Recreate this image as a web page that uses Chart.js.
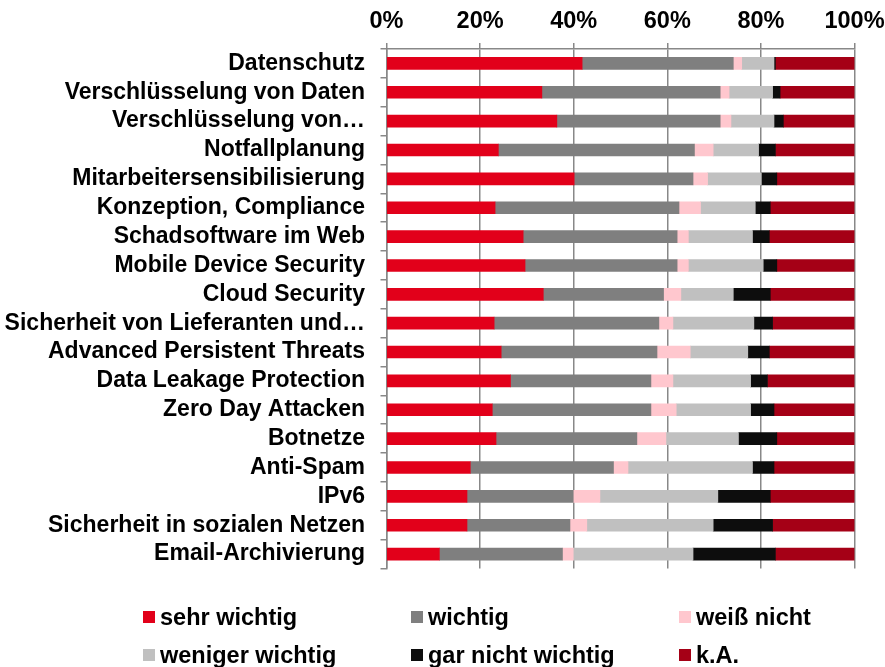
<!DOCTYPE html>
<html>
<head>
<meta charset="utf-8">
<script src="https://cdn.jsdelivr.net/npm/chart.js@4/dist/chart.umd.min.js"></script>
<style>
  html, body { margin: 0; padding: 0; background: #fff; }
  #wrap { position: relative; width: 885px; height: 667px; overflow: hidden; }
  #chart { position: absolute; left: 0; top: 0; }
  .lg { position: absolute; display: flex; align-items: center; height: 24px;
        font-family: "Liberation Sans", Arial, sans-serif; font-weight: bold; font-size: 23.5px; color: #000; white-space: nowrap; }
  .lg .sw { width: 12px; height: 12px; margin-right: 5px; flex: none; }
</style>
</head>
<body>
<div id="wrap">
  <canvas id="chart" width="885" height="667"></canvas>
</div>
<script>
const categories = [
  "Datenschutz",
  "Verschlüsselung von Daten",
  "Verschlüsselung von…",
  "Notfallplanung",
  "Mitarbeitersensibilisierung",
  "Konzeption, Compliance",
  "Schadsoftware im Web",
  "Mobile Device Security",
  "Cloud Security",
  "Sicherheit von Lieferanten und…",
  "Advanced Persistent Threats",
  "Data Leakage Protection",
  "Zero Day Attacken",
  "Botnetze",
  "Anti-Spam",
  "IPv6",
  "Sicherheit in sozialen Netzen",
  "Email-Archivierung"
];
const seriesNames = ["sehr wichtig", "wichtig", "weiß nicht", "weniger wichtig", "gar nicht wichtig", "k.A."];
const seriesColors = ["#E2001A", "#7F7F7F", "#FFC7CE", "#C0C0C0", "#0D0D0D", "#A50016"];

const sehrWichtig    = [41.8,33.2,36.4,23.9,40.1,23.2,29.2,29.6,33.5,23.0,24.5,26.5,22.6,23.4,17.9,17.2,17.2,11.3];
const wichtig        = [32.3,38.1,34.9,41.9,25.4,39.3,32.9,32.5,25.7,35.2,33.3,30.0,33.9,30.1,30.6,22.7,22.0,26.3];
const weissNicht     = [1.8,1.9,2.3,4.0,3.1,4.6,2.4,2.4,3.7,3.0,7.1,4.7,5.4,6.2,3.1,5.7,3.6,2.3];
const wenigerWichtig = [6.9,9.3,9.2,9.7,11.5,11.7,13.7,16.0,11.2,17.3,12.3,16.6,15.9,15.5,26.6,25.2,27.0,25.6];
const garNichtWichtig= [0.3,1.6,2.0,3.6,3.3,3.2,3.6,2.9,7.9,4.0,4.6,3.6,5.0,8.2,4.6,11.2,12.7,17.6];
const keineAngabe    = [16.9,15.9,15.2,16.9,16.6,18.0,18.2,16.6,18.0,17.5,18.2,18.6,17.2,16.6,17.2,18.0,17.5,16.9];

const tickValues = [0, 20, 40, 60, 80, 100];

const seriesData = [sehrWichtig, wichtig, weissNicht, wenigerWichtig, garNichtWichtig, keineAngabe];
const FONT = '"Liberation Sans", Arial, sans-serif';
const GRID = '#888888';

const datasets = seriesNames.map((name, i) => ({
  label: name,
  data: seriesData[i],
  backgroundColor: seriesColors[i],
  borderWidth: 0,
  barThickness: 12,
  stack: 's'
}));

new Chart(document.getElementById('chart'), {
  type: 'bar',
  data: { labels: categories, datasets },
  options: {
    indexAxis: 'y',
    responsive: false,
    animation: false,
    layout: { padding: { left: 0, right: 30.5, top: 0, bottom: 98.5 } },
    plugins: { legend: { display: false }, tooltip: { enabled: false } },
    scales: {
      x: {
        position: 'top',
        stacked: true,
        min: 0, max: 100,
        afterBuildTicks: (s) => { s.ticks = tickValues.map(v => ({ value: v })); },
        afterFit: (s) => { s.height = 49; s.paddingLeft = 0; s.paddingRight = 0; },
        ticks: {
          padding: 7,
          color: '#000',
          font: { family: FONT, size: 23.5, weight: 'bold' },
          callback: (v) => v + '%'
        },
        grid: { color: GRID, lineWidth: 1.5, tickLength: 6, drawTicks: true },
        border: { display: true, color: GRID, width: 1.5 }
      },
      y: {
        stacked: true,
        afterFit: (s) => { s.width = 386.5; s.paddingTop = 0; s.paddingBottom = 0; },
        ticks: {
          padding: 15.5,
          color: '#000',
          font: { family: FONT, size: 23, weight: 'bold' },
          autoSkip: false
        },
        grid: { display: true, drawOnChartArea: false, drawTicks: true, tickLength: 6, color: GRID, lineWidth: 1.5, offset: true },
        border: { display: true, color: GRID, width: 1.5 }
      }
    }
  }
});

// HTML legend built from the series arrays
const legendCols = [143, 411, 679];
const legendRows = [605, 643];
const wrap = document.getElementById('wrap');
seriesNames.forEach((name, i) => {
  const el = document.createElement('div');
  el.className = 'lg';
  el.style.left = legendCols[i % 3] + 'px';
  el.style.top = legendRows[Math.floor(i / 3)] + 'px';
  const sw = document.createElement('span');
  sw.className = 'sw';
  sw.style.background = seriesColors[i];
  const tx = document.createElement('span');
  tx.textContent = name;
  el.appendChild(sw);
  el.appendChild(tx);
  wrap.appendChild(el);
});
</script>
</body>
</html>
